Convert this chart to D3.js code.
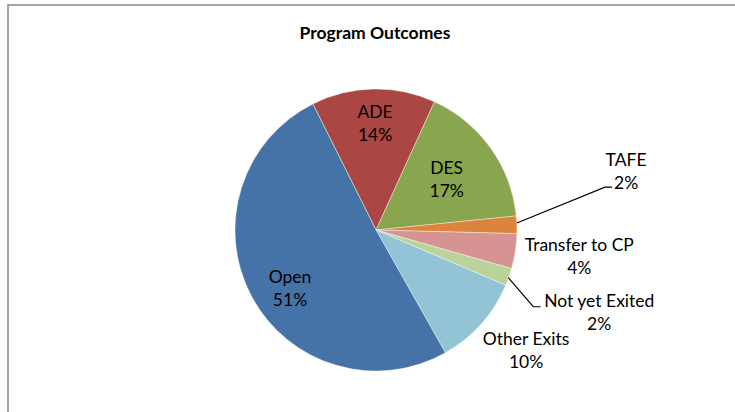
<!DOCTYPE html>
<html>
<head>
<meta charset="utf-8">
<script src="https://cdn.jsdelivr.net/npm/d3@7"></script>
<style>
  html, body { margin: 0; padding: 0; background: #fff; }
  svg { display: block; }
</style>
</head>
<body>
<div id="chart"></div>
<script>
const WIDTH = 735;
const HEIGHT = 412;

// data
const categories = ["ADE", "DES", "TAFE", "Transfer to CP", "Not yet Exited", "Other Exits", "Open"];
const shares = [14.2, 16.6, 2.0, 4.0, 2.0, 10.4, 50.8];
const sliceColors = ["#AA4643", "#89A54E", "#DB843D", "#D59391", "#BBD39B", "#93C4D6", "#4572A7"];

// label placement: [distance from centre, angle in degrees clockwise from top]
const labelPolar = [[107, -0.5], [87, 54.3], [257, 76.7], [205, 97.4], [238, 110.3], [192, 128.6], [104, 235.8]];
// leader lines for the small outside labels, same polar form
const leaders = {
    2: [[141, 87.2], [233, 79.4], [240, 79.7]],
    4: [[140.6, 109.8], [175, 116], [181.7, 115]]
};

const cx = 376, cy = 230, radius = 141;
const firstAngle = -26.6 * Math.PI / 180;

const svg = d3.select("#chart").append("svg")
    .attr("width", WIDTH)
    .attr("height", HEIGHT);

// chart frame (right/bottom edges fall outside the image)
svg.append("rect")
    .attr("x", 8).attr("y", 5)
    .attr("width", WIDTH + 20).attr("height", HEIGHT + 20)
    .attr("fill", "#fff")
    .attr("stroke", "#8f8f8f")
    .attr("stroke-width", 1.6);

svg.append("text")
    .attr("x", 375).attr("y", 38.5)
    .attr("text-anchor", "middle")
    .attr("font-family", "Lato, 'Open Sans', sans-serif")
    .attr("font-weight", "bold")
    .attr("font-size", "17.5px")
    .attr("fill", "#000")
    .text("Program Outcomes");

const pie = d3.pie()
    .sort(null)
    .value(d => d)
    .startAngle(firstAngle)
    .endAngle(firstAngle + 2 * Math.PI);

const arc = d3.arc().innerRadius(0).outerRadius(radius);
const color = d3.scaleOrdinal().domain(categories).range(sliceColors);

const g = svg.append("g").attr("transform", `translate(${cx},${cy})`);
const arcs = pie(shares);

g.selectAll("path.slice")
    .data(arcs)
    .enter()
    .append("path")
    .attr("class", "slice")
    .attr("d", arc)
    .attr("fill", (d, i) => color(categories[i]))
    .attr("stroke", "#fff")
    .attr("stroke-width", 0.4);

const polar = (r, deg) => {
    const a = deg * Math.PI / 180;
    return [r * Math.sin(a), -r * Math.cos(a)];
};

Object.keys(leaders).forEach(k => {
    const pts = leaders[k].map(p => polar(p[0], p[1]));
    g.append("path")
        .attr("d", d3.line()(pts))
        .attr("fill", "none")
        .attr("stroke", "#000")
        .attr("stroke-width", 1.1);
});

const total = d3.sum(shares);
const labels = g.selectAll("text.label")
    .data(arcs)
    .enter()
    .append("text")
    .attr("class", "label")
    .attr("text-anchor", "middle")
    .attr("font-family", "Lato, 'Open Sans', sans-serif")
    .attr("font-size", "17.5px")
    .attr("fill", "#000")
    .attr("transform", (d, i) => {
        const p = polar(labelPolar[i][0], labelPolar[i][1]);
        return `translate(${p[0]},${p[1]})`;
    });

labels.append("tspan")
    .attr("x", 0).attr("dy", "-0.3em")
    .text((d, i) => categories[i]);
labels.append("tspan")
    .attr("x", 0).attr("dy", 23)
    .text(d => Math.round(d.value / total * 100) + "%");
</script>
</body>
</html>
